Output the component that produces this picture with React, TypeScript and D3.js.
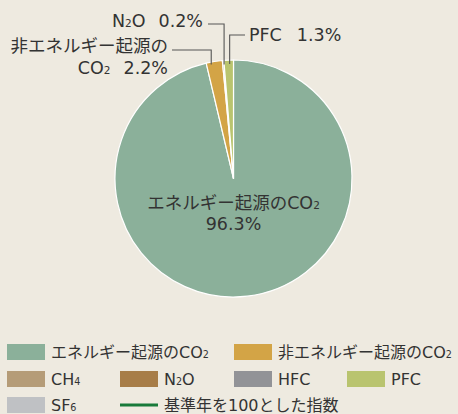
import React from 'react';
import * as d3 from 'd3';

const categories = ['エネルギー起源のCO2', '非エネルギー起源のCO2', 'CH4', 'N2O', 'HFC', 'PFC', 'SF6'];
const shares = [96.3, 2.2, 0, 0.2, 0, 1.3, 0];
const colors = ['#8bb09a', '#d3a446', '#b59c78', '#a77d48', '#929397', '#b9c46f', '#bfc1c4'];
const indexLabel = '基準年を100とした指数';
const indexColor = '#187a3a';

// legend grid: [row, col] for each category
const legendSlots = [[0, 0], [0, 2], [1, 0], [1, 1], [1, 2], [1, 3], [2, 0]];

const W = 458;
const H = 414;
const FONT = '"DejaVu Sans", "Noto Sans CJK JP", sans-serif';
const TEXT = '#333';
const LBL = 17.5;

// "CO2" -> CO + small 2
function Chem({ name, size }: { name: string; size: number }) {
  const parts = name.split(/(\d)/).filter(s => s !== '');
  return (
    <>
      {parts.map((p, i) =>
        /^\d$/.test(p) && i > 0 ? (
          <tspan key={i} fontSize={size * 0.6}>{p}</tspan>
        ) : (
          <tspan key={i}>{p}</tspan>
        )
      )}
    </>
  );
}

export default function App() {
  const cx = 233.5;
  const cy = 178.5;
  const r = 118.5;

  const pie = d3.pie<number>().sort(null).value(d => d);
  const arcs = pie(shares);
  const arc = d3.arc<d3.PieArcDatum<number>>().innerRadius(0).outerRadius(r);

  const edge = (i: number) => {
    const a = (arcs[i].startAngle + arcs[i].endAngle) / 2;
    return [cx + r * Math.sin(a), cy - r * Math.cos(a)];
  };

  const [nx, ny] = edge(1);
  const [ox, oy] = edge(3);
  const [px, py] = edge(5);

  const colX = [7, 120, 234, 347];
  const rowY = [344, 371, 397];
  const sw = 38;
  const sh = 16;

  return (
    <svg width={W} height={H} style={{ position: 'fixed', left: 0, top: 0 }} fontFamily={FONT}>
      <rect width={W} height={H} fill="#eeeae0" />

      <g transform={`translate(${cx},${cy})`}>
        {arcs.map((a, i) =>
          a.value > 0 ? (
            <path key={i} d={arc(a) || ''} fill={colors[i]} stroke="#fff" strokeWidth={1.2} strokeLinejoin="round" />
          ) : null
        )}
      </g>

      {/* leader lines */}
      <g fill="none" stroke="#555" strokeWidth={1.1}>
        <polyline points={`172,50 ${nx - 3},50 ${nx - 3},${ny + 3}`} />
        <polyline points={`208,24 ${ox + 1},24 ${ox + 1},${oy + 4}`} />
        <polyline points={`245,35 ${px + 1},35 ${px + 1},${py + 4}`} />
      </g>

      <g fill={TEXT} fontSize={LBL}>
        <text x={168} y={52} textAnchor="end">非エネルギー起源の</text>
        <text x={168} y={74} textAnchor="end">
          <Chem name="CO2" size={LBL} />
          <tspan dx={13}>{shares[1].toFixed(1)}%</tspan>
        </text>
        <text x={203} y={27} textAnchor="end">
          <Chem name="N2O" size={LBL} />
          <tspan dx={13}>{shares[3].toFixed(1)}%</tspan>
        </text>
        <text x={249} y={41}>
          PFC
          <tspan dx={15}>{shares[5].toFixed(1)}%</tspan>
        </text>
        <text x={cx} y={209} textAnchor="middle">
          <Chem name={categories[0]} size={LBL} />
        </text>
        <text x={cx} y={230} textAnchor="middle">{shares[0].toFixed(1)}%</text>
      </g>

      {/* legend */}
      <g fontSize={16} fill={TEXT}>
        {categories.map((c, i) => {
          const [row, col] = legendSlots[i];
          const x = colX[col];
          const y = rowY[row];
          return (
            <g key={c}>
              <rect x={x} y={y} width={sw} height={sh} fill={colors[i]} />
              <text x={x + sw + 6} y={y + 14}>
                <Chem name={c} size={16} />
              </text>
            </g>
          );
        })}
        <line x1={colX[1]} x2={colX[1] + sw} y1={rowY[2] + 8} y2={rowY[2] + 8} stroke={indexColor} strokeWidth={3} />
        <text x={colX[1] + sw + 6} y={rowY[2] + 14}>{indexLabel}</text>
      </g>
    </svg>
  );
}
